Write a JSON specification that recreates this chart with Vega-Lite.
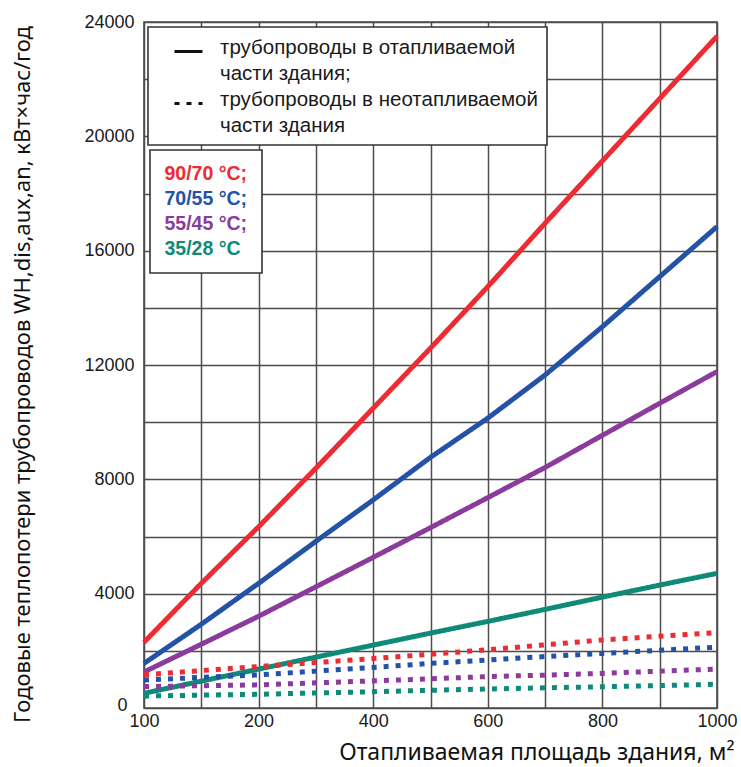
{
  "$schema": "https://vega.github.io/schema/vega-lite/v6.json",
  "width": 573,
  "height": 686,
  "autosize": {"type": "none"},
  "padding": {"left": 144, "top": 22, "right": 24, "bottom": 59},
  "background": "white",
  "config": {
    "view": {"stroke": "#4d4d4d", "strokeWidth": 1.6},
    "axis": {
      "gridColor": "#4d4d4d", "gridWidth": 1.5, "gridOpacity": 1,
      "domain": false, "ticks": false,
      "labelFont": "Liberation Sans", "labelFontSize": 18, "labelColor": "#1a1a1a",
      "titleFont": "Noto Sans", "titleFontWeight": "normal", "titleColor": "#111111"
    }
  },
  "data": {"values": [
    {"a":100,"w":2300,"t":"90/70 °C","p":"отапл"},{"a":150,"w":4360,"t":"90/70 °C","p":"отапл"},{"a":200,"w":6340,"t":"90/70 °C","p":"отапл"},{"a":300,"w":8390,"t":"90/70 °C","p":"отапл"},{"a":400,"w":10490,"t":"90/70 °C","p":"отапл"},{"a":500,"w":12590,"t":"90/70 °C","p":"отапл"},{"a":600,"w":14740,"t":"90/70 °C","p":"отапл"},{"a":700,"w":16960,"t":"90/70 °C","p":"отапл"},{"a":800,"w":19140,"t":"90/70 °C","p":"отапл"},{"a":900,"w":21320,"t":"90/70 °C","p":"отапл"},{"a":1000,"w":23500,"t":"90/70 °C","p":"отапл"},
    {"a":100,"w":1560,"t":"70/55 °C","p":"отапл"},{"a":150,"w":2930,"t":"70/55 °C","p":"отапл"},{"a":200,"w":4360,"t":"70/55 °C","p":"отапл"},{"a":300,"w":5830,"t":"70/55 °C","p":"отапл"},{"a":400,"w":7280,"t":"70/55 °C","p":"отапл"},{"a":500,"w":8770,"t":"70/55 °C","p":"отапл"},{"a":600,"w":10140,"t":"70/55 °C","p":"отапл"},{"a":700,"w":11650,"t":"70/55 °C","p":"отапл"},{"a":800,"w":13340,"t":"70/55 °C","p":"отапл"},{"a":900,"w":15090,"t":"70/55 °C","p":"отапл"},{"a":1000,"w":16840,"t":"70/55 °C","p":"отапл"},
    {"a":100,"w":1260,"t":"55/45 °C","p":"отапл"},{"a":150,"w":2230,"t":"55/45 °C","p":"отапл"},{"a":200,"w":3210,"t":"55/45 °C","p":"отапл"},{"a":300,"w":4240,"t":"55/45 °C","p":"отапл"},{"a":400,"w":5270,"t":"55/45 °C","p":"отапл"},{"a":500,"w":6310,"t":"55/45 °C","p":"отапл"},{"a":600,"w":7360,"t":"55/45 °C","p":"отапл"},{"a":700,"w":8415,"t":"55/45 °C","p":"отапл"},{"a":800,"w":9540,"t":"55/45 °C","p":"отапл"},{"a":900,"w":10660,"t":"55/45 °C","p":"отапл"},{"a":1000,"w":11770,"t":"55/45 °C","p":"отапл"},
    {"a":100,"w":515,"t":"35/28 °C","p":"отапл"},{"a":150,"w":940,"t":"35/28 °C","p":"отапл"},{"a":200,"w":1360,"t":"35/28 °C","p":"отапл"},{"a":300,"w":1780,"t":"35/28 °C","p":"отапл"},{"a":400,"w":2200,"t":"35/28 °C","p":"отапл"},{"a":500,"w":2620,"t":"35/28 °C","p":"отапл"},{"a":600,"w":3030,"t":"35/28 °C","p":"отапл"},{"a":700,"w":3450,"t":"35/28 °C","p":"отапл"},{"a":800,"w":3880,"t":"35/28 °C","p":"отапл"},{"a":900,"w":4300,"t":"35/28 °C","p":"отапл"},{"a":1000,"w":4710,"t":"35/28 °C","p":"отапл"},
    {"a":100,"w":1160,"t":"90/70 °C","p":"неотапл"},{"a":150,"w":1310,"t":"90/70 °C","p":"неотапл"},{"a":200,"w":1450,"t":"90/70 °C","p":"неотапл"},{"a":300,"w":1590,"t":"90/70 °C","p":"неотапл"},{"a":400,"w":1730,"t":"90/70 °C","p":"неотапл"},{"a":500,"w":1880,"t":"90/70 °C","p":"неотапл"},{"a":600,"w":2040,"t":"90/70 °C","p":"неотапл"},{"a":700,"w":2210,"t":"90/70 °C","p":"неотапл"},{"a":800,"w":2380,"t":"90/70 °C","p":"неотапл"},{"a":900,"w":2510,"t":"90/70 °C","p":"неотапл"},{"a":1000,"w":2640,"t":"90/70 °C","p":"неотапл"},
    {"a":100,"w":980,"t":"70/55 °C","p":"неотапл"},{"a":150,"w":1070,"t":"70/55 °C","p":"неотапл"},{"a":200,"w":1160,"t":"70/55 °C","p":"неотапл"},{"a":300,"w":1290,"t":"70/55 °C","p":"неотапл"},{"a":400,"w":1420,"t":"70/55 °C","p":"неотапл"},{"a":500,"w":1560,"t":"70/55 °C","p":"неотапл"},{"a":600,"w":1680,"t":"70/55 °C","p":"неотапл"},{"a":700,"w":1800,"t":"70/55 °C","p":"неотапл"},{"a":800,"w":1910,"t":"70/55 °C","p":"неотапл"},{"a":900,"w":2020,"t":"70/55 °C","p":"неотапл"},{"a":1000,"w":2130,"t":"70/55 °C","p":"неотапл"},
    {"a":100,"w":750,"t":"55/45 °C","p":"неотапл"},{"a":150,"w":780,"t":"55/45 °C","p":"неотапл"},{"a":200,"w":810,"t":"55/45 °C","p":"неотапл"},{"a":300,"w":880,"t":"55/45 °C","p":"неотапл"},{"a":400,"w":950,"t":"55/45 °C","p":"неотапл"},{"a":500,"w":1020,"t":"55/45 °C","p":"неотапл"},{"a":600,"w":1100,"t":"55/45 °C","p":"неотапл"},{"a":700,"w":1150,"t":"55/45 °C","p":"неотапл"},{"a":800,"w":1210,"t":"55/45 °C","p":"неотапл"},{"a":900,"w":1290,"t":"55/45 °C","p":"неотапл"},{"a":1000,"w":1360,"t":"55/45 °C","p":"неотапл"},
    {"a":100,"w":420,"t":"35/28 °C","p":"неотапл"},{"a":150,"w":450,"t":"35/28 °C","p":"неотапл"},{"a":200,"w":480,"t":"35/28 °C","p":"неотапл"},{"a":300,"w":525,"t":"35/28 °C","p":"неотапл"},{"a":400,"w":570,"t":"35/28 °C","p":"неотапл"},{"a":500,"w":620,"t":"35/28 °C","p":"неотапл"},{"a":600,"w":665,"t":"35/28 °C","p":"неотапл"},{"a":700,"w":705,"t":"35/28 °C","p":"неотапл"},{"a":800,"w":745,"t":"35/28 °C","p":"неотапл"},{"a":900,"w":785,"t":"35/28 °C","p":"неотапл"},{"a":1000,"w":830,"t":"35/28 °C","p":"неотапл"}
  ]},
  "mark": {"type": "line", "strokeWidth": 5, "strokeCap": "butt"},
  "encoding": {
    "x": {
      "field": "a", "type": "quantitative",
      "scale": {"domain": [100, 200, 1000], "range": [0, 114.6, 573], "nice": false, "zero": false},
      "axis": {
        "values": [100, 150, 200, 300, 400, 500, 600, 700, 800, 900, 1000],
        "format": "d",
        "labelExpr": "indexof([100, 200, 400, 600, 800, 1000], datum.value) >= 0 ? datum.label : ''",
        "labelPadding": 4, "labelOverlap": false, "labelFlush": false,
        "title": "Отапливаемая площадь здания, м²", "titleFontSize": 23,
        "titleAnchor": "end", "titleAlign": "right", "titleX": 590, "titleY": 51, "titleBaseline": "alphabetic"
      }
    },
    "y": {
      "field": "w", "type": "quantitative",
      "scale": {"domain": [0, 24000], "nice": false},
      "axis": {
        "values": [0, 2000, 4000, 6000, 8000, 10000, 12000, 14000, 16000, 18000, 20000, 22000, 24000],
        "format": "d",
        "labelExpr": "datum.value % 4000 == 0 ? datum.label : ''",
        "labelPadding": {"condition": {"test": "datum.value == 0", "value": 17}, "value": 10},
        "labelOffset": {"condition": {"test": "datum.value == 0", "value": -3}, "value": 0},
        "labelOverlap": false, "labelFlush": false,
        "title": "Годовые теплопотери трубопроводов WH,dis,aux,an, кВт×час/год", "titleFontSize": 22,
        "titleX": -122, "titleY": 352, "titleAngle": -90, "titleAlign": "center", "titleBaseline": "middle"
      }
    },
    "color": {
      "field": "t", "type": "nominal",
      "scale": {"domain": ["90/70 °C", "70/55 °C", "55/45 °C", "35/28 °C"], "range": ["#ee2a33", "#2352a6", "#8a3b9b", "#0f8a78"]},
      "legend": {
        "orient": "none", "legendX": 6, "legendY": 128, "title": null,
        "symbolSize": 0, "symbolOpacity": 0, "symbolStrokeWidth": 0, "labelOffset": -19,
        "labelFont": "Liberation Sans", "labelFontWeight": "bold", "labelFontSize": 19.5,
        "labelExpr": "datum.value == '35/28 °C' ? datum.label : datum.label + ';'",
        "rowPadding": 4, "padding": 14,
        "fillColor": "white", "strokeColor": "#333333",
        "encode": {
          "labels": {"update": {"fill": {"scale": "color", "field": "value"}}},
          "legend": {"update": {"strokeWidth": {"value": 1.6}}}
        }
      }
    },
    "strokeDash": {
      "field": "p", "type": "nominal",
      "scale": {"domain": ["отапл", "неотапл"], "range": [[1, 0], [5, 7]]},
      "legend": {
        "orient": "none", "legendX": 4, "legendY": 5, "title": null,
        "labelExpr": "datum.value == 'отапл' ? ['трубопроводы в отапливаемой', 'части здания;'] : ['трубопроводы в неотапливаемой', 'части здания']",
        "labelFont": "Liberation Sans", "labelFontSize": 20.5, "labelColor": "#1a1a1a",
        "labelLimit": 400, "labelOffset": 16, "labelBaseline": "top",
        "symbolType": "stroke", "symbolSize": 784, "symbolStrokeColor": "#111111", "symbolStrokeWidth": 3,
        "symbolOffset": 16,
        "rowPadding": 4, "padding": 9,
        "fillColor": "white", "strokeColor": "#333333",
        "encode": {
          "labels": {"update": {"lineHeight": {"value": 26}, "dy": {"value": -14}}},
          "legend": {"update": {"strokeWidth": {"value": 1.6}}}
        }
      }
    }
  }
}
